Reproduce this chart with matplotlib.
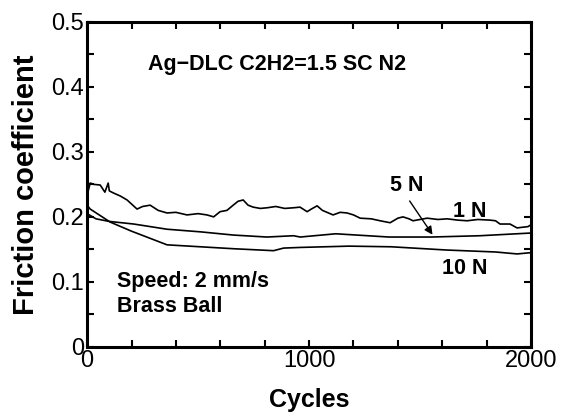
import matplotlib
matplotlib.use("Agg")
import matplotlib.pyplot as plt
from matplotlib.ticker import MultipleLocator

plt.rcParams["font.family"] = ["Liberation Sans", "DejaVu Sans"]

# ── Data ──────────────────────────────────────────────────────────────────────
cyc_1n = [0, 5, 14, 30, 59, 80, 95, 100, 117, 150, 180, 225, 250, 284, 320,
          360, 400, 450, 500, 540, 570, 599, 630, 658, 680, 703, 725, 748, 780,
          811, 850, 890, 930, 959, 991, 1010, 1036, 1060, 1108, 1140, 1171,
          1200, 1230, 1280, 1320, 1365, 1400, 1423, 1450, 1468, 1500, 1532,
          1580, 1622, 1670, 1712, 1760, 1815, 1840, 1860, 1905, 1937, 1960,
          1986, 2000]
mu_1n = [0.212, 0.240, 0.252, 0.250, 0.249, 0.238, 0.252, 0.240, 0.237, 0.232,
         0.226, 0.212, 0.216, 0.218, 0.210, 0.206, 0.207, 0.203, 0.205, 0.203,
         0.200, 0.208, 0.210, 0.218, 0.224, 0.226, 0.218, 0.215, 0.213, 0.214,
         0.216, 0.213, 0.214, 0.215, 0.208, 0.212, 0.217, 0.210, 0.203, 0.207,
         0.206, 0.203, 0.198, 0.197, 0.194, 0.191, 0.198, 0.200, 0.197, 0.194,
         0.196, 0.198, 0.196, 0.197, 0.195, 0.194, 0.196, 0.195, 0.194, 0.189,
         0.189, 0.183, 0.184, 0.185, 0.188]

cyc_5n = [0, 10, 40, 100, 210, 360, 510, 660, 810, 930, 960, 1120, 1360, 1550,
          1770, 1990, 2000]
mu_5n = [0.205, 0.203, 0.197, 0.193, 0.189, 0.181, 0.177, 0.172, 0.169, 0.171,
         0.169, 0.174, 0.169, 0.169, 0.171, 0.175, 0.175]

cyc_10n = [0, 14, 104, 200, 284, 360, 510, 660, 840, 885, 960, 1180, 1370,
           1620, 1840, 1937, 2000]
mu_10n = [0.218, 0.212, 0.192, 0.178, 0.167, 0.157, 0.154, 0.151, 0.148, 0.152,
          0.153, 0.155, 0.154, 0.149, 0.146, 0.143, 0.145]

# ── Figure ────────────────────────────────────────────────────────────────────
fig = plt.figure(figsize=(5.62, 4.12), dpi=100)
ax = fig.add_axes([0.155, 0.158, 0.79, 0.789])

for c, m in [(cyc_1n, mu_1n), (cyc_5n, mu_5n), (cyc_10n, mu_10n)]:
    ax.plot(c, m, color="black", lw=1.2)

ax.set_xlim(0, 2000)
ax.set_ylim(0, 0.5)
ax.xaxis.set_major_locator(MultipleLocator(1000))
ax.xaxis.set_minor_locator(MultipleLocator(200))
ax.yaxis.set_major_locator(MultipleLocator(0.1))
ax.yaxis.set_minor_locator(MultipleLocator(0.05))
ax.xaxis.set_major_formatter(plt.FuncFormatter(lambda v, p: f"{v:.0f}"))
ax.yaxis.set_major_formatter(plt.FuncFormatter(lambda v, p: "0" if v == 0 else f"{v:.1f}"))
ax.tick_params(which="both", direction="in", top=True, right=True,
               length=5, width=1.5, labelsize=17, pad=2)

for s in ax.spines.values():
    s.set_linewidth(2.2)

ax.set_xlabel("Cycles", fontsize=18, fontweight="bold", labelpad=12)
ax.set_ylabel("Friction coefficient", fontsize=21, fontweight="bold", labelpad=8)

ax.text(275, 0.434, "Ag\u2212DLC C2H2=1.5 SC N2", fontsize=15.5, fontweight="bold",
        va="center", ha="left")
ax.text(135, 0.100, "Speed: 2 mm/s", fontsize=15.5, fontweight="bold", va="center")
ax.text(135, 0.062, "Brass Ball", fontsize=15.5, fontweight="bold", va="center")
ax.text(1441, 0.248, "5 N", fontsize=15.5, fontweight="bold", ha="center", va="center")
ax.text(1725, 0.208, "1 N", fontsize=15.5, fontweight="bold", ha="center", va="center")
ax.text(1703, 0.120, "10 N", fontsize=15.5, fontweight="bold", ha="center", va="center")
ax.annotate("", xy=(1563, 0.169), xytext=(1446, 0.228),
            arrowprops=dict(arrowstyle="-|>", color="black", lw=1,
                            mutation_scale=12))

fig.savefig("out.png", dpi=100)
